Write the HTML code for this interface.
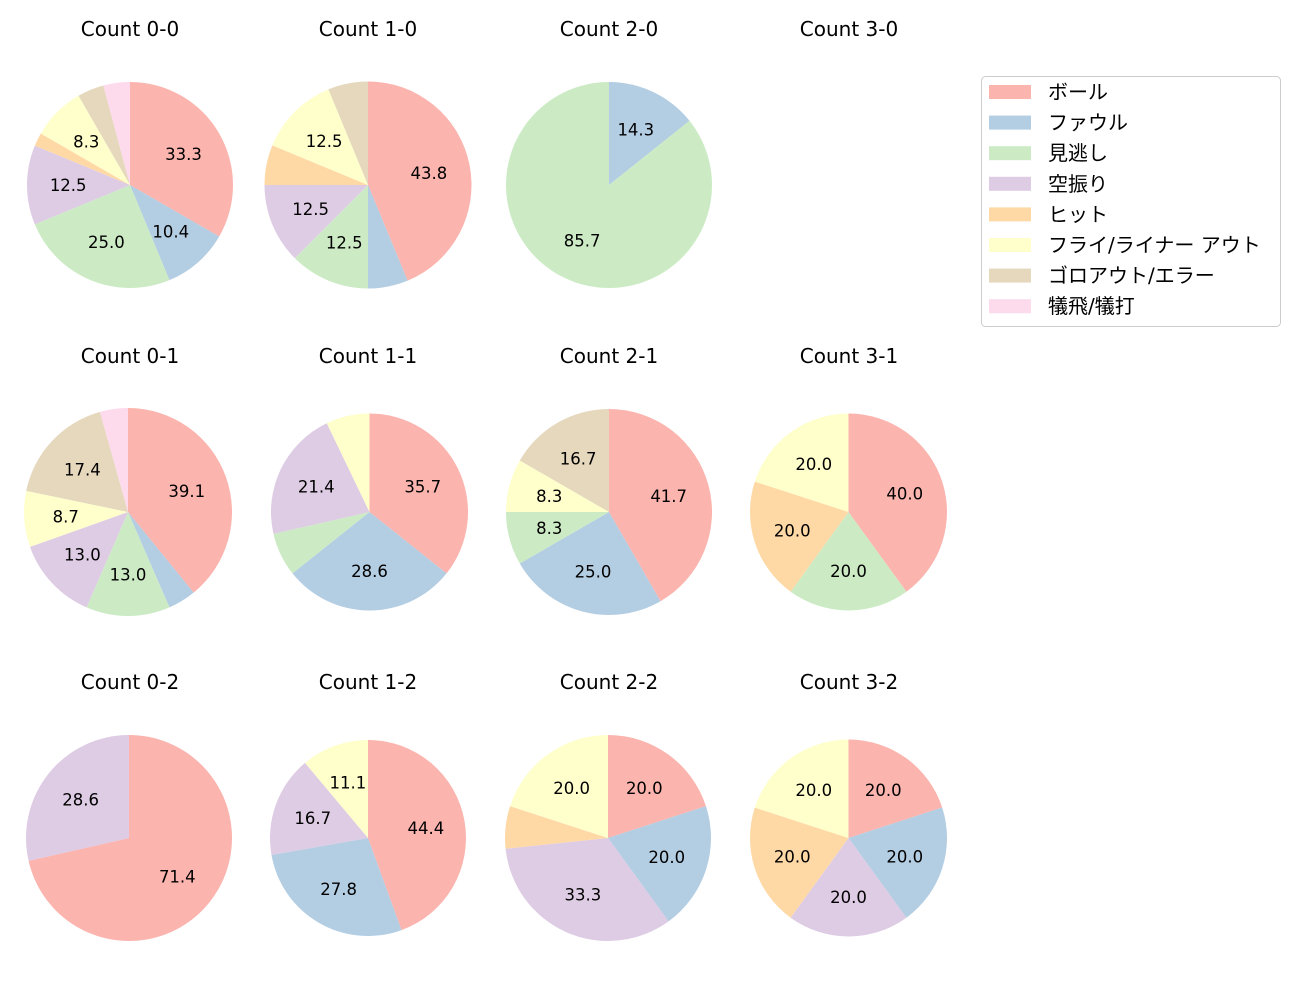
<!DOCTYPE html>
<html><head><meta charset="utf-8"><style>
body{margin:0;background:#fff;font-family:"DejaVu Sans","Noto Sans CJK JP",sans-serif;}
svg text{font-family:"DejaVu Sans","Noto Sans CJK JP",sans-serif;}
</style></head><body>
<svg id="chart" width="1300" height="1000" viewBox="0 0 1300 1000"></svg>
<script>
const categories = ["ボール","ファウル","見逃し","空振り","ヒット","フライ/ライナー アウト","ゴロアウト/エラー","犠飛/犠打"];
const colors = ["#fbb4ae","#b3cde3","#ccebc5","#decbe4","#fed9a6","#ffffcc","#e5d8bd","#fddaec"];
const titles = ["Count 0-0","Count 1-0","Count 2-0","Count 3-0","Count 0-1","Count 1-1","Count 2-1","Count 3-1","Count 0-2","Count 1-2","Count 2-2","Count 3-2"];
const v00 = [16,5,12,6,1,4,2,2];
const v10 = [7,1,2,2,1,2,1,0];
const v20 = [0,1,6,0,0,0,0,0];
const v30 = [0,0,0,0,0,0,0,0];
const v01 = [9,1,3,3,0,2,4,1];
const v11 = [5,4,1,3,0,1,0,0];
const v21 = [5,3,1,0,0,1,2,0];
const v31 = [2,0,1,0,1,1,0,0];
const v02 = [5,0,0,2,0,0,0,0];
const v12 = [8,5,0,3,0,2,0,0];
const v22 = [3,3,0,5,1,3,0,0];
const v32 = [1,1,0,1,1,1,0,0];
const series = [v00,v10,v20,v30,v01,v11,v21,v31,v02,v12,v22,v32];
const colX = [130,368,609,849];
const rowY = [185,512,838];
const titleY = [29,356,682];
const radii = [103,103.5,103,100,104,98.5,103,98.5,103,98,103,98.5];
const cxAdj = [0,0,0,0,-2,1.5,0,-0.5,-1,0,-1,-0.5];
const NS="http://www.w3.org/2000/svg";
const svg=document.getElementById('chart');
function mk(t,a){const e=document.createElementNS(NS,t);for(const k in a)e.setAttribute(k,a[k]);return e;}
series.forEach((vals,i)=>{
  const c=i%4,r=Math.floor(i/4);
  const cx=colX[c]+cxAdj[i],cy=rowY[r],R=radii[i];
  const g=mk('g',{});
  
  
  svg.appendChild(g);
  const t=mk('text',{x:colX[c],y:titleY[r]+7,'text-anchor':'middle','font-size':'20',fill:'#000'});
  t.textContent=titles[i];
  
  
  g.appendChild(t);
  const total=vals.reduce((a,b)=>a+b,0);
  if(total<=0)return;
  let ang=90;
  vals.forEach((v,k)=>{
    if(v<=0)return;
    const sweep=v/total*360;
    const a1=ang, a2=ang-sweep;
    const p=(a)=>[cx+R*Math.cos(a*Math.PI/180), cy-R*Math.sin(a*Math.PI/180)];
    let el;
    if(sweep>=359.99){el=mk('circle',{cx:cx,cy:cy,r:R,fill:colors[k]});}
    else{
      const [x1,y1]=p(a1),[x2,y2]=p(a2);
      el=mk('path',{d:`M${cx},${cy} L${x1},${y1} A${R},${R} 0 ${sweep>180?1:0} 1 ${x2},${y2} Z`,fill:colors[k]});
    }
    
    
    g.appendChild(el);
    const pct=v/total*100;
    if(pct>=8){
      const m=(a1+a2)/2*Math.PI/180;
      const lb=mk('text',{x:cx+0.6*R*Math.cos(m),y:cy-0.6*R*Math.sin(m)+6,'text-anchor':'middle','font-size':'16.5',fill:'#000'});
      lb.textContent=pct.toFixed(1);
      
      
      g.appendChild(lb);
    }
    ang=a2;
  });
});
const lg=mk('g',{});


svg.appendChild(lg);
lg.appendChild(mk('rect',{x:981.5,y:76.5,width:299,height:250,rx:4,fill:'#fff',stroke:'#cccccc'}));
categories.forEach((name,k)=>{
  const y=92+k*30.6;
  const sw=mk('rect',{x:989,y:y-7,width:42,height:14,fill:colors[k]});
  
  
  lg.appendChild(sw);
  const tx=mk('text',{x:1048,y:y+7,'font-size':'20',fill:'#000'});
  tx.textContent=name;
  
  
  lg.appendChild(tx);
});
</script>
</body></html>
